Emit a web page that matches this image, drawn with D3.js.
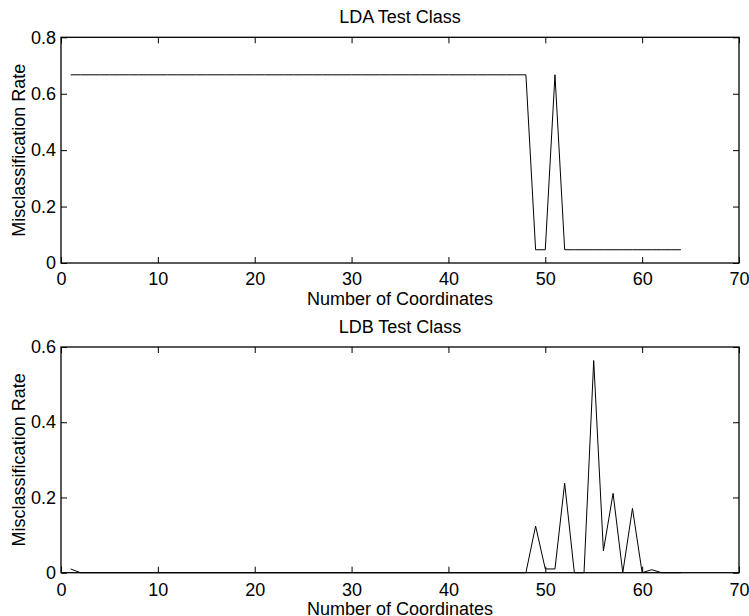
<!DOCTYPE html>
<html>
<head>
<meta charset="utf-8">
<script src="https://cdn.jsdelivr.net/npm/d3@7"></script>
<style>
  body { margin: 0; background: #fff; }
  svg { display: block; }
  text { font-family: 'Liberation Sans', Arial, sans-serif; fill: #000; }
</style>
</head>
<body>
<svg id="chart" width="749" height="616"></svg>
<script>
// number of coordinates used (1..64)
const coords = d3.range(1, 65);

// LDA test class misclassification rate
const ldaRate = [
  0.667, 0.667, 0.667, 0.667, 0.667, 0.667, 0.667, 0.667, 0.667, 0.667,
  0.667, 0.667, 0.667, 0.667, 0.667, 0.667, 0.667, 0.667, 0.667, 0.667,
  0.667, 0.667, 0.667, 0.667, 0.667, 0.667, 0.667, 0.667, 0.667, 0.667,
  0.667, 0.667, 0.667, 0.667, 0.667, 0.667, 0.667, 0.667, 0.667, 0.667,
  0.667, 0.667, 0.667, 0.667, 0.667, 0.667, 0.667, 0.667, 0.047, 0.047,
  0.667, 0.047, 0.047, 0.047, 0.047, 0.047, 0.047, 0.047, 0.047, 0.047,
  0.047, 0.047, 0.047, 0.047,
];

// LDB test class misclassification rate
const ldbRate = [
  0.01, 0, 0, 0, 0, 0, 0, 0, 0, 0,
  0, 0, 0, 0, 0, 0, 0, 0, 0, 0,
  0, 0, 0, 0, 0, 0, 0, 0, 0, 0,
  0, 0, 0, 0, 0, 0, 0, 0, 0, 0,
  0, 0, 0, 0, 0, 0, 0, 0, 0.124, 0.01,
  0.01, 0.238, 0, 0, 0.564, 0.058, 0.211, 0, 0.171, 0,
  0.008, 0, 0, 0,
];

const xTicks = [0, 10, 20, 30, 40, 50, 60, 70];
const ldaTicks = [0, 0.2, 0.4, 0.6, 0.8];
const ldbTicks = [0, 0.2, 0.4, 0.6];

const svg = d3.select('#chart');
const left = 61;
const right = 739;
const fontSize = 18;
const tickLen = 6;

const xScale = d3.scaleLinear().domain([0, 70]).range([left, right]);

function drawPanel({ top, bottom, yMax, yTicks, values, title, xPad }) {
  const yScale = d3.scaleLinear().domain([0, yMax]).range([bottom, top]);
  const g = svg.append('g');

  // inward ticks on all four sides
  const bottomAxis = d3.axisBottom(xScale).tickValues(xTicks).tickSize(-tickLen).tickSizeOuter(0)
    .tickPadding(xPad).tickFormat(d3.format('d'));
  const topAxis = d3.axisTop(xScale).tickValues(xTicks).tickSize(-tickLen).tickSizeOuter(0).tickFormat('');
  const leftAxis = d3.axisLeft(yScale).tickValues(yTicks).tickSize(-tickLen).tickSizeOuter(0)
    .tickPadding(5).tickFormat((d) => (d === 0 ? '0' : d3.format('.1f')(d)));
  const rightAxis = d3.axisRight(yScale).tickValues(yTicks).tickSize(-tickLen).tickSizeOuter(0).tickFormat('');

  const axes = [
    g.append('g').attr('transform', `translate(0,${bottom})`).call(bottomAxis),
    g.append('g').attr('transform', `translate(0,${top})`).call(topAxis),
    g.append('g').attr('transform', `translate(${left},0)`).call(leftAxis),
    g.append('g').attr('transform', `translate(${right},0)`).call(rightAxis),
  ];
  axes.forEach((a) => {
    a.attr('font-size', fontSize).attr('font-family', null);
    a.selectAll('.domain').remove();
    a.selectAll('.tick line').attr('stroke', '#000').attr('stroke-width', 1);
    a.selectAll('.tick text').attr('fill', '#000');
  });

  g.append('rect')
    .attr('x', left).attr('y', top)
    .attr('width', right - left).attr('height', bottom - top)
    .attr('fill', 'none').attr('stroke', '#000').attr('stroke-width', 1.3);

  const line = d3.line()
    .x((d, i) => xScale(coords[i]))
    .y((d) => yScale(d));

  g.append('path')
    .datum(values)
    .attr('d', line)
    .attr('fill', 'none')
    .attr('stroke', '#000')
    .attr('stroke-width', 1);

  g.append('text')
    .attr('x', (left + right) / 2).attr('y', top - 14)
    .attr('text-anchor', 'middle').attr('font-size', fontSize)
    .text(title);

  g.append('text')
    .attr('x', (left + right) / 2).attr('y', bottom + 42)
    .attr('text-anchor', 'middle').attr('font-size', fontSize)
    .text('Number of Coordinates');

  g.append('text')
    .attr('transform', `translate(25,${(top + bottom) / 2}) rotate(-90)`)
    .attr('text-anchor', 'middle').attr('font-size', fontSize)
    .text('Misclassification Rate');
}

drawPanel({
  top: 37.3, bottom: 263, yMax: 0.8, yTicks: ldaTicks, values: ldaRate, title: 'LDA Test Class', xPad: 9,
});
drawPanel({
  top: 347, bottom: 572.7, yMax: 0.6, yTicks: ldbTicks, values: ldbRate, title: 'LDB Test Class', xPad: 11,
});
</script>
</body>
</html>
